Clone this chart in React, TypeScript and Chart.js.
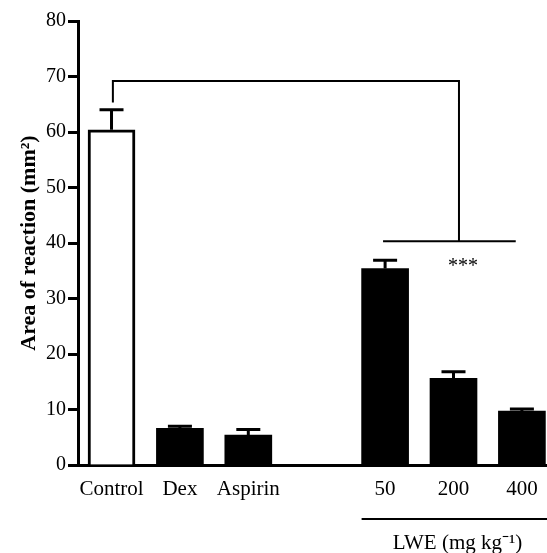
import React, { useEffect, useRef } from 'react';
import { Chart, registerables } from 'chart.js';

Chart.register(...registerables);

// ---- data ----
const categories = ['Control', 'Dex', 'Aspirin', '50', '200', '400'];
const positions = [0, 1, 2, 4, 5, 6];
const means = [60.4, 6.6, 5.4, 35.4, 15.6, 9.7];
const errorTops = [64.0, 7.0, 6.4, 36.9, 16.8, 10.1];
const fills = ['#ffffff', '#000000', '#000000', '#000000', '#000000', '#000000'];
const borders = [3, 0, 0, 0, 0, 0];
const yMin = 0;
const yMax = 80;
const yStep = 10;
const yTitle = 'Area of reaction (mm²)';
// significance bracket (x in category units, y in data units)
const bracketX = [0.02, 0.02, 5.08, 5.08];
const bracketY = [65.3, 69.2, 69.2, 40.3];
const lowerBracketX = [3.97, 5.91];
const lowerBracketY = 40.3;
const sigLabel = '***';
const sigX = 5.14;
const sigY = 35.7;
const groupLabel = 'LWE (mg kg⁻¹)';
const groupFrom = 4;
const groupTo = 6;

const FONT = "'Liberation Serif', 'Times New Roman', serif";

export default function App() {
  const ref = useRef<HTMLCanvasElement | null>(null);

  useEffect(() => {
    if (!ref.current) return;
    const BAR = 47;
    const annot = {
      id: 'annot',
      afterDatasetsDraw(chart: any) {
        const ctx = chart.ctx;
        const xs = chart.scales.x;
        const ys = chart.scales.y;
        ctx.save();
        ctx.strokeStyle = '#000';
        // error bars
        ctx.lineWidth = 3;
        positions.forEach((p, i) => {
          const cx = xs.getPixelForValue(p);
          const yTop = ys.getPixelForValue(errorTops[i]);
          const yBar = ys.getPixelForValue(means[i]);
          ctx.beginPath();
          ctx.moveTo(cx, yBar);
          ctx.lineTo(cx, yTop);
          ctx.moveTo(cx - 12, yTop);
          ctx.lineTo(cx + 12, yTop);
          ctx.stroke();
        });
        // bracket
        ctx.lineWidth = 2;
        ctx.beginPath();
        bracketX.forEach((bx, i) => {
          const px = xs.getPixelForValue(bx);
          const py = ys.getPixelForValue(bracketY[i]);
          if (i === 0) ctx.moveTo(px, py);
          else ctx.lineTo(px, py);
        });
        ctx.stroke();
        ctx.beginPath();
        ctx.moveTo(xs.getPixelForValue(lowerBracketX[0]), ys.getPixelForValue(lowerBracketY));
        ctx.lineTo(xs.getPixelForValue(lowerBracketX[1]), ys.getPixelForValue(lowerBracketY));
        ctx.stroke();
        // significance
        ctx.fillStyle = '#000';
        ctx.font = `20px ${FONT}`;
        ctx.textAlign = 'center';
        ctx.textBaseline = 'middle';
        ctx.fillText(sigLabel, xs.getPixelForValue(sigX), ys.getPixelForValue(sigY));
        ctx.restore();
      },
      afterDraw(chart: any) {
        const ctx = chart.ctx;
        const xs = chart.scales.x;
        const area = chart.chartArea;
        ctx.save();
        ctx.strokeStyle = '#000';
        ctx.lineWidth = 2;
        const lineY = area.bottom + 54;
        ctx.beginPath();
        ctx.moveTo(xs.getPixelForValue(groupFrom) - BAR / 2, lineY);
        ctx.lineTo(chart.width, lineY);
        ctx.stroke();
        ctx.fillStyle = '#000';
        ctx.font = `21px ${FONT}`;
        ctx.textAlign = 'center';
        ctx.textBaseline = 'alphabetic';
        const cx = (xs.getPixelForValue(groupFrom) + xs.getPixelForValue(groupTo)) / 2 + 4;
        ctx.fillText(groupLabel, cx, area.bottom + 84);
        ctx.restore();
      },
    };

    const chart = new Chart(ref.current, {
      type: 'bar',
      data: {
        datasets: [
          {
            data: positions.map((x, i) => ({ x, y: means[i] })),
            backgroundColor: fills,
            borderColor: '#000',
            borderWidth: borders,
            barThickness: BAR,
          } as any,
        ],
      },
      options: {
        animation: false,
        responsive: true,
        maintainAspectRatio: false,
        layout: { padding: { top: 21, left: 0, right: 0, bottom: 0 } },
        plugins: { legend: { display: false }, tooltip: { enabled: false } },
        scales: {
          x: {
            type: 'linear',
            offset: false,
            min: -0.49,
            max: 6.367,
            afterBuildTicks: (axis: any) => {
              axis.ticks = positions.map((v) => ({ value: v }));
            },
            afterFit: (s: any) => {
              s.height = 88;
              s.paddingRight = 0;
              s.paddingLeft = 0;
            },
            grid: { display: false, drawTicks: false, tickLength: 0 },
            border: { display: true, color: '#000', width: 3 },
            ticks: {
              autoSkip: false,
              maxRotation: 0,
              minRotation: 0,
              padding: 12,
              color: '#000',
              font: { family: FONT, size: 21 },
              callback: (v: any) => {
                const i = positions.indexOf(Number(v));
                return i >= 0 ? categories[i] : '';
              },
            },
          },
          y: {
            min: yMin,
            max: yMax,
            afterFit: (s: any) => {
              s.width = 78;
            },
            grid: {
              display: true,
              drawOnChartArea: false,
              drawTicks: true,
              tickLength: 10,
              tickWidth: 3,
              tickColor: '#000',
              color: '#000',
            },
            border: { display: true, color: '#000', width: 3 },
            title: {
              display: true,
              text: yTitle,
              color: '#000',
              font: { family: FONT, size: 22, weight: 'bold' },
              padding: { top: 16, bottom: 0 },
            },
            ticks: {
              stepSize: yStep,
              padding: 2,
              color: '#000',
              font: { family: FONT, size: 20 },
            },
          },
        },
      } as any,
      plugins: [annot],
    });
    return () => chart.destroy();
  }, []);

  return (
    <div style={{ position: 'absolute', left: 0, top: 0, width: 547, height: 553 }}>
      <canvas ref={ref} />
    </div>
  );
}
